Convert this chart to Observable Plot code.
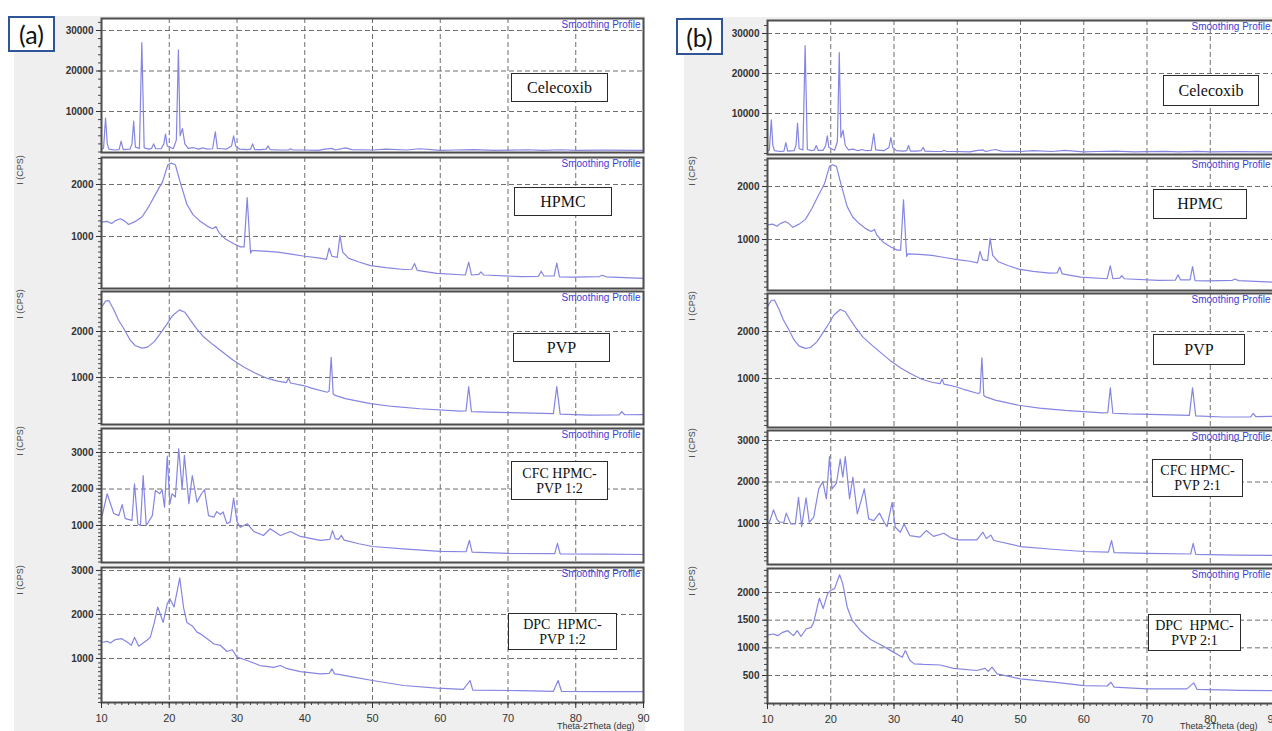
<!DOCTYPE html>
<html><head><meta charset="utf-8">
<script src="https://cdn.jsdelivr.net/npm/d3@7"></script>
<script src="https://cdn.jsdelivr.net/npm/@observablehq/plot@0.6"></script>
<style>
body{margin:0;background:#fff;}
#root{position:relative;width:1272px;height:731px;overflow:hidden;background:#fff;font-family:Arial,"Liberation Sans",sans-serif;}
.bg{position:absolute;background:#efefef;}
.lbl{position:absolute;box-sizing:border-box;border:1.5px solid #2a2a2a;background:#fff;font-family:"Liberation Serif","DejaVu Serif",serif !important;color:#111;display:flex;align-items:center;justify-content:center;text-align:center;}
.ylab{position:absolute;width:60px;height:12px;line-height:12px;text-align:center;font-size:9px;color:#444;transform:rotate(-90deg);}
.panel{position:absolute;box-sizing:border-box;border:2px solid #2f5597;background:#fff;font-family:Lato,"Open Sans",sans-serif;font-size:25px;display:flex;align-items:center;justify-content:center;color:#111;}
.xtitle{position:absolute;font-size:9px;line-height:10px;color:#333;white-space:nowrap;}
</style>
</head><body><div id="root"></div>
<script>
// ---- data: [2theta (deg), intensity (CPS)] ----
const celecoxib = [[10,600],[10.3,900],[10.6,8400],[10.85,2000],[11.1,700],[12.0,500],[12.6,600],[12.9,2700],[13.2,600],[14.2,700],[14.5,2000],[14.75,7600],[15.0,1200],[15.6,900],[15.95,27000],[16.3,1000],[17.0,700],[17.4,900],[17.7,2000],[18.0,800],[18.8,800],[19.2,2000],[19.45,4400],[19.7,1500],[20.6,800],[21.05,3000],[21.35,25200],[21.6,4000],[21.95,5800],[22.3,2000],[22.8,900],[23.5,1100],[24.3,700],[25.0,1000],[25.6,700],[26.4,800],[26.8,5000],[27.1,900],[27.8,800],[28.4,700],[29.2,1500],[29.5,4000],[29.8,1500],[30.4,700],[31.5,600],[32.0,700],[32.3,2000],[32.6,600],[33.5,600],[34.3,700],[34.6,1500],[34.9,600],[36.5,500],[37.6,500],[37.9,800],[38.3,500],[40,500],[42,400],[43,700],[44,900],[44.5,500],[46,1000],[47,600],[50,500],[52,700],[55,500],[57,800],[60,400],[62,500],[65,600],[68,400],[70,450],[73,550],[75,400],[78,550],[80,400],[84,450],[90,400]];
const hpmc = [[10,1275],[10.8,1290],[11.5,1250],[12.0,1300],[12.8,1340],[13.4,1300],[14.0,1230],[15.0,1290],[16.0,1380],[17.0,1580],[18.0,1820],[19.0,2050],[19.8,2380],[20.3,2410],[20.9,2380],[21.6,2050],[22.6,1620],[23.5,1420],[24.5,1300],[25.6,1200],[26.4,1150],[26.9,1190],[27.3,1080],[28.3,950],[29.5,860],[30.5,800],[31.05,800],[31.5,1750],[31.8,1100],[32.0,680],[32.2,730],[34,720],[36,700],[38,660],[40,620],[42,590],[43.2,560],[43.6,775],[44.0,620],[44.8,600],[45.2,1020],[45.6,700],[46.5,580],[48,510],[49.7,440],[52,400],[54.6,365],[55.8,370],[56.2,480],[56.6,350],[59.5,290],[63.7,260],[64.2,505],[64.6,260],[65.7,270],[66,320],[66.4,260],[71.8,230],[74.5,235],[74.9,333],[75.3,240],[76.8,240],[77.2,487],[77.6,225],[79.6,220],[83.5,230],[83.9,255],[84.5,225],[90,195]];
const pvp = [[10,2530],[10.6,2660],[11.1,2670],[11.8,2480],[12.5,2250],[13.3,2060],[14.2,1820],[15.0,1690],[16.0,1640],[16.8,1660],[17.8,1780],[18.7,1960],[19.7,2170],[20.5,2350],[21.5,2470],[22.3,2420],[23.2,2230],[24.0,2070],[25.1,1880],[26.5,1710],[28.0,1540],[29.5,1370],[31.0,1230],[32.5,1110],[34.4,985],[36,920],[37.3,890],[37.6,990],[37.9,880],[39.8,825],[41,770],[43.3,680],[43.6,700],[43.9,1440],[44.2,640],[44.5,610],[46,540],[49.7,430],[53,370],[57,320],[63,270],[63.8,275],[64.2,800],[64.6,260],[67,245],[72,230],[76.7,215],[77.2,800],[77.7,205],[82,180],[86.4,185],[86.8,260],[87.2,190],[90,195]];
const cfc12 = [[10.1,1270],[10.84,1870],[11.8,1330],[12.55,1270],[13.05,1570],[13.5,1190],[14.5,1140],[14.87,2140],[15.36,1050],[15.75,1000],[16.15,2370],[16.6,1000],[17.5,1270],[17.96,1960],[18.6,1870],[18.95,1980],[19.3,1500],[19.7,2900],[20.1,1600],[20.4,1870],[20.9,1780],[21.4,3100],[21.9,2000],[22.24,2920],[22.9,1600],[23.4,2370],[24.1,1640],[24.75,1870],[25.2,1980],[25.8,1270],[26.6,1230],[27.0,1380],[27.55,1300],[27.95,1370],[28.5,1050],[29.0,1100],[29.5,1750],[30.0,1100],[30.5,950],[31.5,1050],[32.5,835],[33.9,725],[34.9,910],[36.4,725],[37.9,835],[39.35,700],[42.3,590],[43.7,620],[44.1,860],[44.5,640],[45.0,620],[45.4,730],[45.8,600],[48,500],[50,425],[55,350],[60,290],[63.8,280],[64.3,590],[64.7,270],[70,235],[76.9,230],[77.3,510],[77.7,220],[84,215],[90,205]];
const dpc12 = [[10.1,1370],[10.84,1390],[11.3,1350],[12.05,1430],[13.0,1450],[14.0,1350],[14.4,1300],[14.87,1480],[15.5,1280],[16.75,1420],[17.2,1480],[17.8,1820],[18.3,2170],[19.1,1820],[19.7,2240],[20.1,2360],[20.7,2170],[21.55,2830],[22.1,2170],[22.6,1820],[23.4,1740],[24.1,1600],[24.6,1560],[25.6,1450],[26.6,1330],[27.55,1300],[28.5,1160],[29.3,1200],[30.0,1030],[31.5,955],[33.4,840],[35.4,800],[36.4,840],[37.4,768],[39.35,700],[42.3,650],[43.6,660],[44.0,765],[44.4,650],[45,640],[47.2,575],[50,500],[54.6,386],[59.5,325],[63.4,300],[64.4,500],[64.8,280],[71.8,270],[76.7,255],[77.4,500],[77.9,255],[84.1,245],[90,245]];
const cfc21 = [[10.0,1000],[10.3,1030],[10.95,1330],[11.5,1100],[11.9,1030],[12.6,1030],[12.96,1250],[13.7,990],[14.4,990],[14.9,1630],[15.4,925],[16.1,1620],[16.6,1030],[17.3,1150],[18.1,1835],[18.75,2010],[19.3,1595],[19.8,2610],[20.2,1835],[20.9,1970],[21.5,2550],[21.9,2115],[22.3,2610],[22.97,1595],[23.5,2115],[24.2,1230],[24.8,1550],[25.3,1835],[26.0,1110],[26.8,1070],[27.7,1250],[28.45,1030],[28.9,925],[29.7,1510],[30.2,910],[31.0,790],[31.6,990],[32.5,710],[34.1,670],[35.1,830],[36.25,690],[37.9,765],[38.9,660],[40.2,605],[43.1,605],[44.06,790],[44.6,640],[45.3,720],[45.8,590],[50,445],[55,380],[60,325],[63.9,310],[64.4,590],[64.8,300],[70,280],[76.9,265],[77.3,520],[77.7,255],[84,240],[90,230]];
const dpc21 = [[10.16,1235],[10.9,1250],[11.6,1220],[12.4,1280],[13.2,1310],[14.1,1220],[14.7,1310],[15.3,1205],[16.1,1340],[16.9,1370],[17.3,1460],[18.2,1900],[18.8,1710],[19.5,1980],[20.0,2040],[20.6,2070],[21.4,2320],[21.9,2160],[22.6,1735],[23.4,1495],[24.7,1310],[26.3,1150],[27.9,1055],[29.5,950],[31.3,830],[31.8,950],[32.5,775],[33.2,710],[34.7,700],[37.3,690],[39.4,630],[43.1,590],[44.4,628],[44.9,575],[45.5,650],[46.3,530],[50,440],[56.3,367],[60,318],[63.7,310],[64.3,378],[64.8,290],[70,258],[76.3,258],[77.4,367],[77.9,250],[84.7,230],[90,225]];

// tick labels
const xTicks = [10,20,30,40,50,60,70,80,90];
const xGrid = [20,30,40,50,60,70,80];
const yTicksCel = [10000,20000,30000];
const yTicks2k = [1000,2000];
const yTicks3k = [1000,2000,3000];
const yTicksDpc21 = [500,1000,1500,2000];

const panelLabels = ["(a)","(b)"];
const sampleLabels = {
  cel:"Celecoxib", hpmc:"HPMC", pvp:"PVP",
  cfc12:["CFC HPMC-","PVP 1:2"], dpc12:["DPC&nbsp; HPMC-","PVP 1:2"],
  cfc21:["CFC HPMC-","PVP 2:1"], dpc21:["DPC&nbsp; HPMC-","PVP 2:1"]
};

// ---- layout ----
const root = document.getElementById("root");
function div(cls, style, html){const d=document.createElement("div");d.className=cls;Object.assign(d.style,style);if(html!=null)d.innerHTML=html;root.appendChild(d);return d;}

div("bg",{left:"14px",top:"16px",width:"631px",height:"715px"});
div("bg",{left:"684px",top:"17px",width:"588px",height:"714px"});

const panels = [
  {x0:101, x1:643, ylabX:20, subs:[
    {data:celecoxib, y0:18, y1:152, dom:[-123,32963], ticks:yTicksCel, minor:2000, label:sampleLabels.cel, box:[511,73,97,29], ylab:false},
    {data:hpmc, y0:157, y1:288, dom:[0,2519], ticks:yTicks2k, minor:100, label:sampleLabels.hpmc, box:[514,187,98,29]},
    {data:pvp, y0:291, y1:424, dom:[-22,2870], ticks:yTicks2k, minor:100, label:sampleLabels.pvp, box:[513,333,97,29]},
    {data:cfc12, y0:428, y1:562, dom:[-14,3658], ticks:yTicks3k, minor:100, label:sampleLabels.cfc12, box:[511,461,97,39]},
    {data:dpc12, y0:567, y1:702, dom:[0,3068], ticks:yTicks3k, minor:100, label:sampleLabels.dpc12, box:[508,613,109,37], bottom:true}
  ], tag:[8,16,47,36]},
  {x0:767, x1:1273, ylabX:692, subs:[
    {data:celecoxib, y0:20, y1:154, dom:[-250,33250], ticks:yTicksCel, minor:2000, label:sampleLabels.cel, box:[1163,75,96,31], ylab:false},
    {data:hpmc, y0:158, y1:290, dom:[38,2528], ticks:yTicks2k, minor:100, label:sampleLabels.hpmc, box:[1153,189,94,30]},
    {data:pvp, y0:293, y1:427, dom:[-43,2809], ticks:yTicks2k, minor:100, label:sampleLabels.pvp, box:[1153,334,92,31]},
    {data:cfc21, y0:430, y1:564, dom:[12,3241], ticks:yTicks3k, minor:100, label:sampleLabels.cfc21, box:[1152,459,91,38]},
    {data:dpc21, y0:568, y1:703, dom:[-6,2434], ticks:yTicksDpc21, minor:100, label:sampleLabels.dpc21, box:[1148,614,93,37], bottom:true}
  ], tag:[676,18,47,37]}
];

const ML = 52;
panels.forEach((p, pi) => {
  p.subs.forEach(s => {
    const h = s.y1 - s.y0;
    const mb = s.bottom ? 28 : 0;
    const minorTicks = d3.range(Math.ceil(Math.max(0,s.dom[0])/s.minor)*s.minor, s.dom[1], s.minor);
    const marks = [
      Plot.frame({fill:"#fff", stroke:null}),
      Plot.gridX(xGrid, {stroke:"#555", strokeOpacity:0.85, strokeDasharray:"5,3"}),
      Plot.gridY(s.ticks, {stroke:"#555", strokeOpacity:0.85, strokeDasharray:"5,3"}),
      Plot.line(s.data, {x:d=>d[0], y:d=>d[1], stroke:"#8585e2", strokeWidth:1.2, clip:true}),
      Plot.frame({stroke:"#4d4d4d", strokeWidth:2}),
      Plot.axisY(minorTicks, {tickSize:3, text:null, stroke:"#444"}),
      Plot.axisY(s.ticks, {tickSize:5, tickPadding:3, tickFormat:d=>String(d), fontSize:10, fontWeight:"bold", color:"#333", label:null}),
      Plot.text(["Smoothing Profile"], {text:d=>d, frameAnchor:"top-right", dx:-3, dy:2, fill:"#3d3dd8", fontSize:10, textAnchor:"end", lineAnchor:"top"})
    ];
    if (s.bottom) {
      marks.push(Plot.axisX(d3.range(10,91,1), {tickSize:3, text:null, stroke:"#444", anchor:"bottom"}));
      marks.push(Plot.axisX(xTicks, {tickSize:6, tickPadding:6, fontSize:11, color:"#333", label:null, anchor:"bottom"}));
    }
    const chart = Plot.plot({
      width:(p.x1-p.x0)+ML+2, height:h+mb,
      marginLeft:ML, marginRight:2, marginTop:0, marginBottom:mb,
      x:{domain:[10,90], axis:null},
      y:{domain:s.dom, axis:null},
      style:{background:"transparent", overflow:"visible", fontFamily:"Arial, 'Liberation Sans', sans-serif"},
      marks
    });
    chart.style.position = "absolute";
    chart.style.left = (p.x0-ML)+"px";
    chart.style.top = s.y0+"px";
    root.appendChild(chart);
    const lines = Array.isArray(s.label) ? s.label : [s.label];
    const b = s.box;
    div("lbl",{left:b[0]+"px",top:b[1]+"px",width:b[2]+"px",height:b[3]+"px",fontFamily:"'Liberation Serif','DejaVu Serif',serif",fontSize:(lines.length>1?"14px":"16px"),lineHeight:(lines.length>1?"15px":"18px")}, lines.join("<br>"));
    if (s.ylab !== false) {
      div("ylab",{left:(p.ylabX-30)+"px",top:(s.y0+13-6)+"px"},"I (CPS)");
    }
  });
  const t = p.tag;
  div("panel",{left:t[0]+"px",top:t[1]+"px",width:t[2]+"px",height:t[3]+"px"}, panelLabels[pi]);
  div("xtitle",{left:(pi===0?557:1180)+"px",top:"721px"},"Theta-2Theta (deg)");
});
</script>
</body></html>
